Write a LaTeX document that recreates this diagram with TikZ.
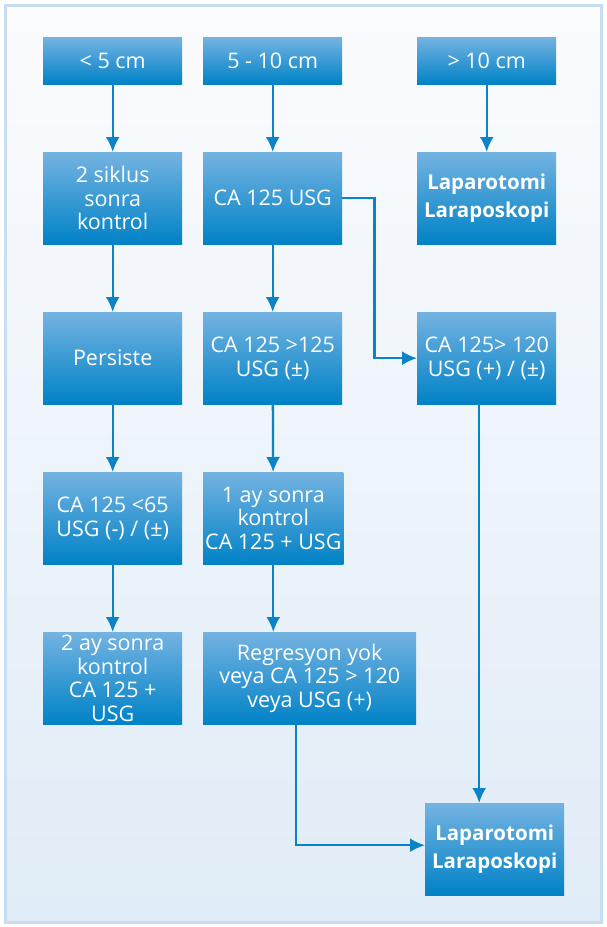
\documentclass[tikz,border=0pt]{standalone}
\usepackage{fontspec}
\setmainfont{Open Sans}
\usetikzlibrary{arrows.meta}

\definecolor{boxtop}{HTML}{74B3E1}
\definecolor{boxmid}{HTML}{2094D2}
\definecolor{boxbot}{HTML}{0082C6}
\definecolor{arrcol}{HTML}{0A84C6}
\definecolor{framecol}{HTML}{C9DDF1}
\definecolor{bgtop}{HTML}{FBFCFE}
\definecolor{bgbot}{HTML}{E0ECF7}

\begin{document}
\begin{tikzpicture}[x=1pt,y=-1pt,
  box/.style={anchor=north west,minimum width=139pt,minimum height=92pt,inner sep=2pt,
    top color=boxtop,middle color=boxmid,bottom color=boxbot,text=white,align=center,
    font=\fontsize{21.5}{23.5}\selectfont},
  headbox/.style={box,minimum height=47pt},
  endbox/.style={box,font=\fontsize{20.5}{28}\selectfont\bfseries},
  arr/.style={-{Latex[length=15pt,width=14pt]},arrcol,line width=2.3pt}]
\pgfmathsetmacro\ca{43}
\pgfmathsetmacro\cb{203}
\pgfmathsetmacro\cc{417}

% frame and background
\useasboundingbox (0,0) rectangle (606,927);
\draw[framecol,line width=3pt,top color=bgtop,bottom color=bgbot] (5,5) rectangle (601,922);

% size classes
\node[headbox] (small) at (\ca,37) {< 5 cm};
\node[headbox] (mid) at (\cb,37) {5 - 10 cm};
\node[headbox] (large) at (\cc,37) {> 10 cm};

% < 5 cm
\node[box] (siklus) at (\ca,152) {2 siklus\\sonra\\kontrol};
\node[box] (persist) at (\ca,312) {Persiste};
\node[box] (low) at (\ca,472) {CA 125 <65\\USG (-) / (±)};
\node[box] (twomonth) at (\ca,632) {2 ay sonra\\kontrol\\CA 125 +\\USG};

% 5 - 10 cm
\node[box] (causg) at (\cb,152) {CA 125 USG};
\node[box] (mark) at (\cb,312) {CA 125 >125\\USG (±)};
\node[box] (onemonth) at (\cb,472) {1 ay sonra\\kontrol\\CA 125 + USG};
\node[box,minimum width=213pt] (regr) at (\cb,632) {Regresyon yok\\veya CA 125 > 120\\veya USG (+)};

% > 10 cm
\node[endbox] (lapa) at (\cc,152) {Laparotomi\\Laraposkopi};
\node[box] (high) at (\cc,312) {CA 125> 120\\USG (+) / (±)};
\node[endbox] (lapb) at (425,803) {Laparotomi\\Laraposkopi};

\draw[arr] (small) -- (siklus);
\draw[arr] (siklus) -- (persist);
\draw[arr] (persist) -- (low);
\draw[arr] (low) -- (twomonth);

\draw[arr] (mid) -- (causg);
\draw[arr] (causg) -- (mark);
\draw[arr] (mark) -- (onemonth);
\draw[arr] (onemonth.south) -- (onemonth.south |- regr.north);
\draw[arr] (causg.east) -- ++(32,0) |- (high.west);

\draw[arr] (large) -- (lapa);
\draw[arr] ([xshift=-7.5pt]high.south) -- ([xshift=-7.5pt]high.south |- lapb.north);
\draw[arr] ([xshift=-13.5pt]regr.south) |- ([yshift=4pt]lapb.west);
\end{tikzpicture}
\end{document}
